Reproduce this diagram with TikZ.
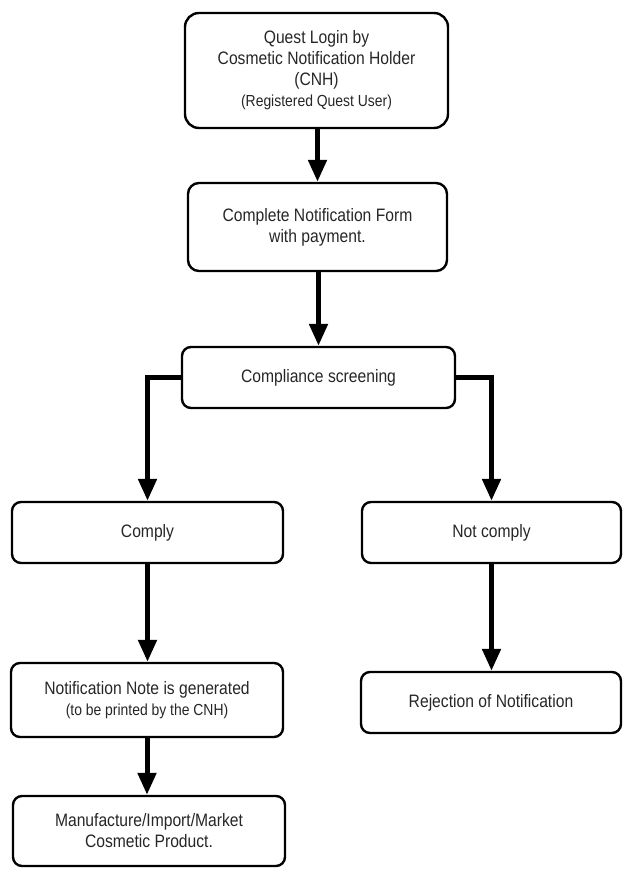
\documentclass[tikz,border=0pt]{standalone}
\usepackage{fontspec}
\setmainfont{Liberation Sans}[FakeStretch=0.87]
\usetikzlibrary{arrows.meta}
\begin{document}
\begin{tikzpicture}[x=1pt,y=-1pt,
  box/.style={draw, line width=2.4pt, rounded corners=9pt, align=center, inner sep=0pt,
    font=\fontsize{18}{21}\selectfont, text=black!85},
  arr/.style={line width=5pt, line join=miter, -{Triangle[length=22pt,width=18pt]}},
  small/.style={}]
\useasboundingbox (0,0) rectangle (623,870);
\node[box, minimum width=263pt, minimum height=115pt, rounded corners=14pt] (login) at (316.5,70.5)
  {Quest Login by\\Cosmetic Notification Holder\\(CNH)\\{\fontsize{16}{21}\selectfont (Registered Quest User)}};
\node[box, minimum width=259pt, minimum height=88pt, rounded corners=11pt] (form) at (317.5,227)
  {Complete Notification Form\\with payment.};
\node[box, minimum width=273pt, minimum height=61pt] (comp) at (318.5,377.5)
  {Compliance screening};
\node[box, minimum width=271pt, minimum height=61pt] (comply) at (147.5,532.5) {Comply};
\node[box, minimum width=259pt, minimum height=61pt] (notcomply) at (491.5,532.5) {Not comply};
\node[box, minimum width=272pt, minimum height=74pt] (note) at (147,700)
  {Notification Note is generated\\{\fontsize{16}{21}\selectfont (to be printed by the CNH)}};
\node[box, minimum width=260pt, minimum height=61pt] (reject) at (491,702.5) {Rejection of Notification};
\node[box, minimum width=272pt, minimum height=70pt] (manu) at (149,831)
  {Manufacture/Import/Market\\Cosmetic Product.};

\draw[arr] (form.north |- login.south) -- (form.north);
\draw[arr] (comp.north |- form.south) -- (comp.north);
\draw[arr] (comp.west) -| (comply.north);
\draw[arr] (comp.east) -| (notcomply.north);
\draw[arr] (comply.south) -- (comply.south |- note.north);
\draw[arr] (notcomply.south) -- (notcomply.south |- reject.north);
\draw[arr] (note.south) -- (note.south |- manu.north);
\end{tikzpicture}
\end{document}
